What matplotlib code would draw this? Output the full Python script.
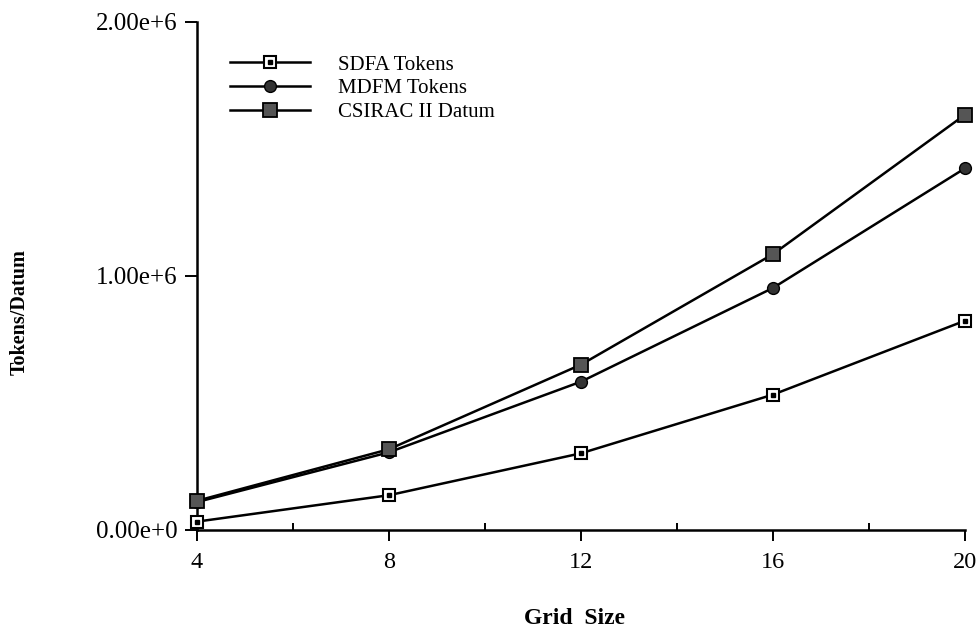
import matplotlib
matplotlib.use("Agg")
import matplotlib.pyplot as plt
from matplotlib.legend_handler import HandlerTuple

grid_size = [4, 8, 12, 16, 20]
sdfa_tokens = [0.033e6, 0.137e6, 0.302e6, 0.533e6, 0.824e6]
mdfm_tokens = [0.110e6, 0.306e6, 0.584e6, 0.953e6, 1.424e6]
csirac_datum = [0.115e6, 0.318e6, 0.651e6, 1.086e6, 1.635e6]
series_labels = ["SDFA Tokens", "MDFM Tokens", "CSIRAC II Datum"]
y_ticks = [0, 1e6, 2e6]
y_tick_labels = ["0.00e+0", "1.00e+6", "2.00e+6"]
x_ticks = [4, 8, 12, 16, 20]
x_minor = [6, 10, 14, 18]

plt.rcParams['font.family'] = ['Liberation Serif', 'DejaVu Serif']

fig = plt.figure(figsize=(9.79, 6.30), dpi=100)
ax = fig.add_axes([197/979, 1-530/630, (965-197)/979, (530-22)/630])

lw = 1.8
l1a, = ax.plot(grid_size, sdfa_tokens, color='black', lw=lw, marker='s', ms=9,
               mfc='white', mec='black', mew=1.5, clip_on=False, zorder=3)
l1b, = ax.plot(grid_size, sdfa_tokens, ls='none', marker='s', ms=2.2, color='black',
               clip_on=False, zorder=4)
l2, = ax.plot(grid_size, mdfm_tokens, color='black', lw=lw, marker='o', ms=8.5,
              mfc='#333333', mec='black', mew=1.0, clip_on=False, zorder=3)
l3, = ax.plot(grid_size, csirac_datum, color='black', lw=lw, marker='s', ms=9.5,
              mfc='#555555', mec='black', mew=1.3, clip_on=False, zorder=3)

ax.set_xlim(4, 20)
ax.set_ylim(0, 2e6)
ax.set_xticks(x_ticks)
ax.set_xticks(x_minor, minor=True)
ax.set_xticklabels([str(v) for v in x_ticks], fontsize=17.5)
ax.set_yticks(y_ticks)
ax.set_yticklabels(y_tick_labels, fontsize=18)
ax.tick_params(axis='x', which='major', direction='out', length=8, width=1.4, pad=8)
ax.tick_params(axis='x', which='minor', direction='in', length=5, width=1.4)
ax.tick_params(axis='y', which='major', direction='out', length=9, width=1.4, pad=5)
for s in ['top', 'right']:
    ax.spines[s].set_visible(False)
for s in ['left', 'bottom']:
    ax.spines[s].set_linewidth(1.8)

fig.text(575/979, 1-619/630, "Grid  Size", ha='center', va='center',
         fontsize=17, fontweight='bold')
fig.text(20/979, 1-312/630, "Tokens/Datum", ha='center', va='center',
         rotation=90, fontsize=14.5, fontweight='bold')

leg = ax.legend([(l1a, l1b), l2, l3], series_labels,
                handler_map={tuple: HandlerTuple(ndivide=1, pad=0)},
                loc='upper left', bbox_to_anchor=(230/979, 1-55/630),
                bbox_transform=fig.transFigure, frameon=False, fontsize=15,
                handlelength=3.85, handletextpad=1.35, labelspacing=0.2,
                borderpad=0, borderaxespad=0)

fig.savefig("out.png", dpi=100)
